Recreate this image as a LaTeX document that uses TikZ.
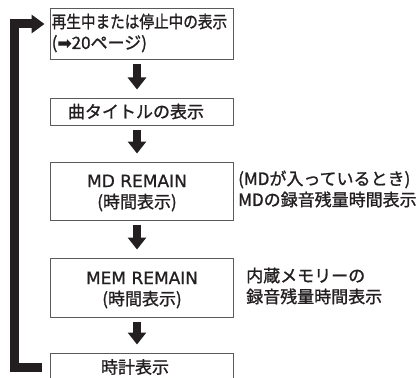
\documentclass[tikz,border=0pt]{standalone}
\usepackage{fontspec}
\usepackage{graphicx}
\setmainfont{Noto Sans CJK JP}[FakeBold=1.2]
\newfontfamily\dvfont{DejaVu Sans}[FakeBold=0.8]
\usetikzlibrary{arrows.meta}
\definecolor{ink}{HTML}{231F20}
\definecolor{boxline}{HTML}{5A5A5A}
\begin{document}
\begin{tikzpicture}[x=1pt,y=-1pt,
  box/.style={draw=boxline,line width=1pt,minimum width=183pt,inner sep=0pt},
  txt/.style={font=\fontsize{17pt}{21pt}\selectfont,text=ink,inner sep=0pt,align=center},
  flow/.style={ink,line width=8pt,-{Triangle[width=18pt,length=12pt]},shorten <=4pt,shorten >=8pt},
  loopline/.style={ink,line width=9pt,line join=miter,-{Triangle[width=18pt,length=13pt]},shorten <=8pt,shorten >=5pt}]
\useasboundingbox (0,0) rectangle (419,377);
\node[box,minimum height=51pt] (b1) at (141.5,34.5) {};
\node[box,minimum height=27pt] (b2) at (141.5,111.5) {};
\node[box,minimum height=58pt] (b3) at (141.5,191) {};
\node[box,minimum height=59pt] (b4) at (141.5,287.5) {};
\node[box,minimum height=28pt] (b5) at (141.5,367) {};
\node[txt,align=left,anchor=west] (t1) at (51.5,33) {\scalebox{0.86}[1]{再生中または停止中の表示}\\({\dvfont ➡}20ページ)};
\node[txt] (t2) at (136,111.5) {曲タイトルの表示};
\node[txt] (t3) at (137,193) {{\dvfont MD REMAIN}\\(時間表示)};
\node[txt] (t4) at (142,290) {{\dvfont MEM REMAIN}\\(時間表示)};
\node[txt] (t5) at (135,367) {時計表示};
\node[txt,align=left,anchor=west] (r3) at (238,189) {(MDが入っているとき)\\MDの録音残量時間表示};
\node[txt,align=left,anchor=west] (r4) at (246,286) {内蔵メモリーの\\録音残量時間表示};
\foreach \a/\b in {b1/b2,b2/b3,b3/b4,b4/b5}
  \draw[flow] ([xshift=-4.5pt]\a.south) -- ([xshift=-4.5pt]\b.north);
\coordinate (lc) at (14.5,24);
\coordinate (li) at (b1.west |- lc);
\draw[loopline] (b5.west) -| (lc) -- (li);
\end{tikzpicture}
\end{document}
